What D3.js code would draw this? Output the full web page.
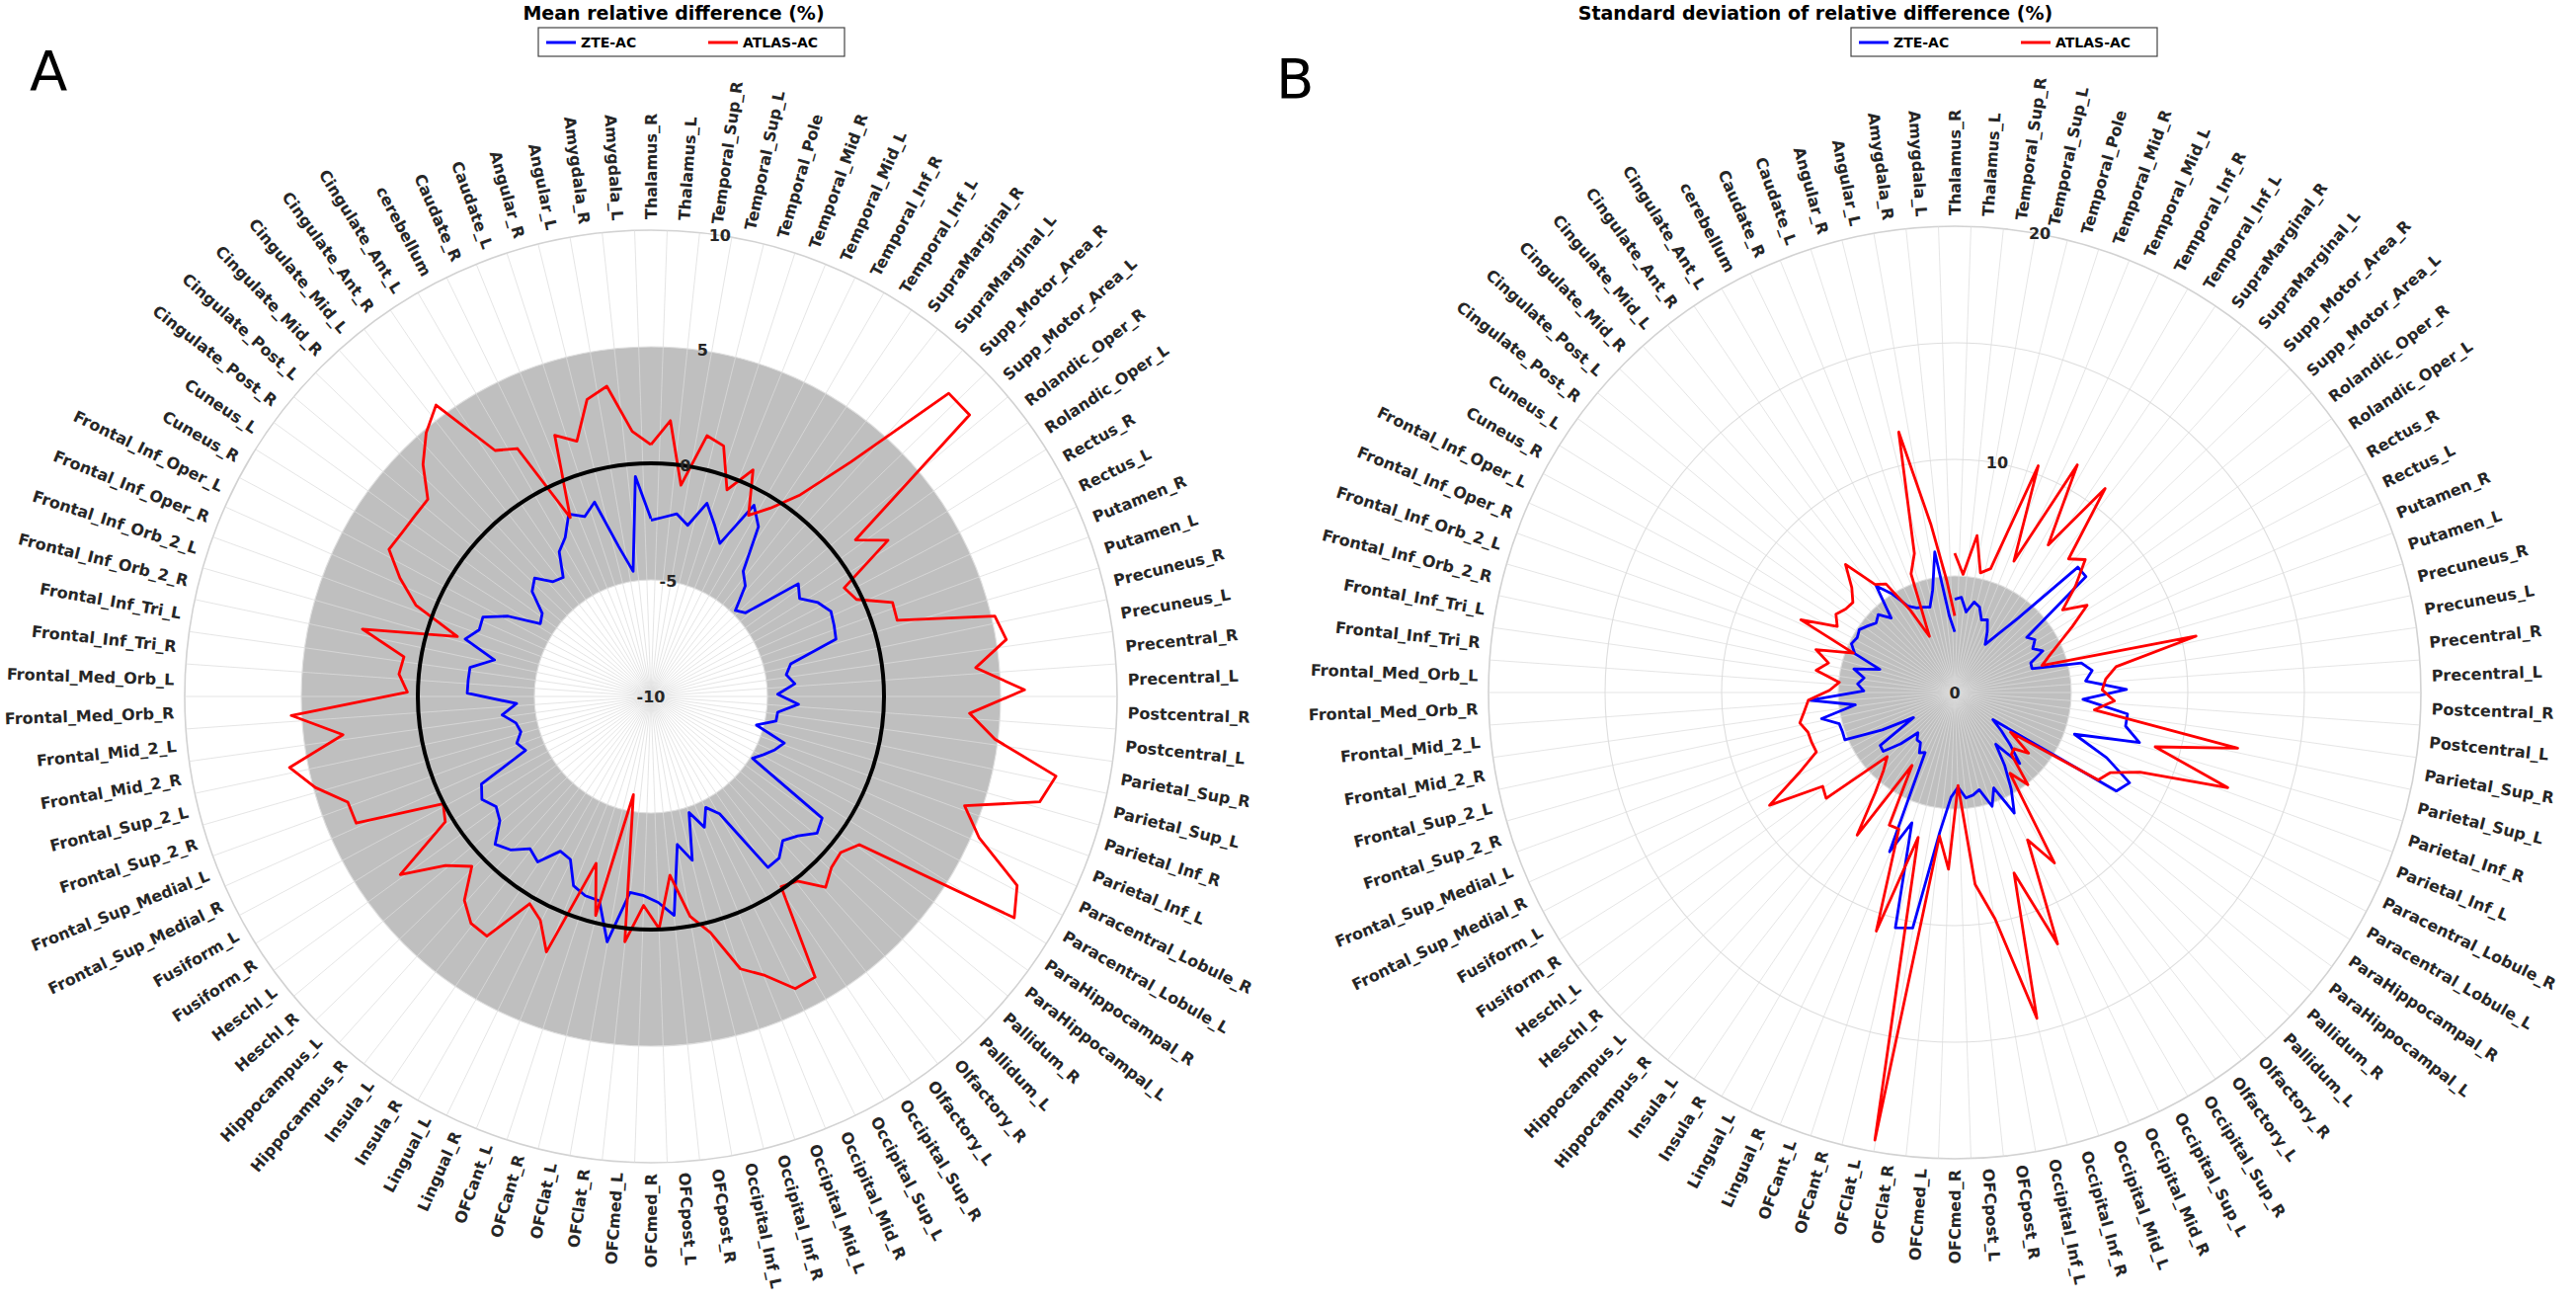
<!DOCTYPE html>
<html>
<head>
<meta charset="utf-8">
<script src="https://cdn.jsdelivr.net/npm/d3@7"></script>
<style>
  body { margin: 0; background: #fff; }
  svg { display: block; font-family: "DejaVu Sans", sans-serif; }
</style>
</head>
<body>
<svg id="chart" width="2608" height="1320"></svg>
<script>
// regions in plotting order, clockwise from 12 o'clock
const regions = [
  "Thalamus_R", "Thalamus_L", "Temporal_Sup_R", "Temporal_Sup_L", "Temporal_Pole",
  "Temporal_Mid_R", "Temporal_Mid_L", "Temporal_Inf_R", "Temporal_Inf_L", "SupraMarginal_R",
  "SupraMarginal_L", "Supp_Motor_Area_R", "Supp_Motor_Area_L", "Rolandic_Oper_R", "Rolandic_Oper_L",
  "Rectus_R", "Rectus_L", "Putamen_R", "Putamen_L", "Precuneus_R",
  "Precuneus_L", "Precentral_R", "Precentral_L", "Postcentral_R", "Postcentral_L",
  "Parietal_Sup_R", "Parietal_Sup_L", "Parietal_Inf_R", "Parietal_Inf_L", "Paracentral_Lobule_R",
  "Paracentral_Lobule_L", "ParaHippocampal_R", "ParaHippocampal_L", "Pallidum_R", "Pallidum_L",
  "Olfactory_R", "Olfactory_L", "Occipital_Sup_R", "Occipital_Sup_L", "Occipital_Mid_R",
  "Occipital_Mid_L", "Occipital_Inf_R", "Occipital_Inf_L", "OFCpost_R", "OFCpost_L",
  "OFCmed_R", "OFCmed_L", "OFClat_R", "OFClat_L", "OFCant_R",
  "OFCant_L", "Lingual_R", "Lingual_L", "Insula_R", "Insula_L",
  "Hippocampus_R", "Hippocampus_L", "Heschl_R", "Heschl_L", "Fusiform_R",
  "Fusiform_L", "Frontal_Sup_Medial_R", "Frontal_Sup_Medial_L", "Frontal_Sup_2_R", "Frontal_Sup_2_L",
  "Frontal_Mid_2_R", "Frontal_Mid_2_L", "Frontal_Med_Orb_R", "Frontal_Med_Orb_L", "Frontal_Inf_Tri_R",
  "Frontal_Inf_Tri_L", "Frontal_Inf_Orb_2_R", "Frontal_Inf_Orb_2_L", "Frontal_Inf_Oper_R", "Frontal_Inf_Oper_L",
  "Cuneus_R", "Cuneus_L", "Cingulate_Post_R", "Cingulate_Post_L", "Cingulate_Mid_R",
  "Cingulate_Mid_L", "Cingulate_Ant_R", "Cingulate_Ant_L", "cerebellum", "Caudate_R",
  "Caudate_L", "Angular_R", "Angular_L", "Amygdala_R", "Amygdala_L"
];

// A: mean relative difference (%)
const meanZTE = [
  -2.44, -2.29, -2.09, -2.49, -1.37, -2.13, -2.80, -0.68, -1.38, -3.33,
  -3.76, -4.83, -4.58, -2.04, -2.36, -1.78, -1.46, -1.57, -1.69, -3.84,
  -4.12, -3.80, -4.56, -3.66, -4.52, -4.53, -5.31, -3.94, -4.21, -4.56,
  -4.90, -0.99, -0.77, -1.31, -1.62, -1.15, -1.11, -4.17, -4.69, -3.94,
  -4.76, -2.75, -3.55, -0.56, -1.16, -1.45, -1.55, 0.69, -0.96, -1.00,
  -1.23, -2.20, -2.31, -1.40, -1.66, -1.08, -0.79, -1.61, -1.85, -1.51,
  -1.82, -4.15, -3.91, -4.22, -4.10, -3.57, -4.23, -2.12, -2.13, -2.14,
  -3.11, -1.66, -2.10, -2.03, -2.97, -4.32, -4.13, -3.20, -2.88, -3.53,
  -3.66, -2.65, -2.25, -1.42, -1.78, -1.32, -3.43, -4.58, -0.54, -2.37
];
const meanATLAS = [
  0.80, 1.86, -0.85, 1.44, 1.19, -0.56, 0.66, -1.17, -0.44, 0.71,
  3.22, 8.23, 8.24, 1.05, 2.18, -0.49, -0.25, 1.12, 1.06, 5.15,
  5.44, 3.99, 6.03, 3.69, 4.87, 7.71, 7.28, 4.25, 5.32, 7.68,
  8.25, 0.97, 0.54, 0.67, 1.10, 0.11, -0.11, 3.95, 3.98, 2.93,
  2.30, 0.45, -0.42, -2.29, -0.04, -1.03, 0.58, -5.72, -0.31, -2.47,
  1.84, 0.71, 0.30, 2.46, 2.42, 1.85, 0.59, 1.41, 3.19, 0.33,
  0.03, 3.76, 3.77, 4.92, 5.80, 3.31, 5.45, 0.45, 0.85, 0.73,
  2.71, -1.31, 0.82, 1.91, 2.89, 2.78, 2.75, 2.77, 3.95, 4.86,
  5.53, 2.49, 2.08, -1.58, 1.94, 1.40, 3.03, 3.44, 1.40, 0.80
];

// B: standard deviation of relative difference (%)
const stdZTE = [
  4.00, 4.09, 3.49, 3.97, 3.82, 3.32, 3.42, 2.94, 2.44, 3.09,
  4.18, 7.54, 7.51, 3.89, 4.12, 3.84, 4.18, 3.50, 3.47, 5.58,
  5.97, 5.64, 7.37, 5.51, 7.47, 7.47, 8.21, 5.44, 7.10, 8.44,
  8.12, 2.01, 2.60, 3.30, 4.13, 2.83, 3.80, 4.80, 5.77, 4.42,
  5.14, 4.30, 4.47, 4.55, 4.06, 4.50, 6.00, 10.26, 10.41, 5.88,
  7.38, 2.87, 3.00, 2.60, 2.60, 2.34, 3.20, 3.97, 3.92, 2.07,
  3.50, 5.13, 5.10, 5.13, 5.82, 4.30, 6.22, 3.90, 4.18, 3.94,
  4.44, 3.36, 4.60, 4.90, 4.80, 4.90, 4.70, 4.50, 4.68, 4.20,
  5.67, 5.00, 4.20, 3.98, 3.90, 3.81, 4.50, 6.09, 3.30, 2.60
];
const stdATLAS = [
  5.97, 5.08, 6.80, 5.25, 5.53, 10.36, 6.18, 11.09, 7.49, 10.87,
  7.53, 7.99, 6.92, 5.83, 6.80, 5.79, 4.96, 4.35, 3.92, 10.63,
  7.01, 6.50, 6.33, 6.86, 6.04, 12.37, 8.91, 12.40, 8.65, 7.50,
  7.21, 2.94, 4.10, 3.50, 3.60, 5.05, 4.20, 8.47, 7.05, 11.65,
  8.15, 14.41, 9.87, 8.28, 3.99, 7.58, 6.19, 19.50, 6.41, 10.77,
  6.33, 6.34, 3.62, 7.41, 5.49, 4.52, 3.99, 7.14, 6.95, 9.30,
  7.51, 6.46, 6.50, 6.52, 6.77, 6.50, 6.29, 5.37, 4.97, 6.02,
  5.56, 6.23, 4.66, 7.30, 5.78, 6.10, 5.89, 5.83, 6.30, 7.22,
  5.76, 5.51, 4.00, 2.64, 5.42, 6.21, 11.43, 7.30, 4.80, 3.29
];

const meanTicks = [-10, -5, 0, 5, 10];
const meanTickLabels = ["-10", "-5", "0", "5", "10"];
const stdTicks = [0, 5, 10, 15, 20];
const stdTickLabels = ["0", "", "10", "", "20"];

const seriesNames = ["ZTE-AC", "ATLAS-AC"];
const seriesColors = ["#0000ff", "#ff0000"];

const outerR = 472;
const svg = d3.select("#chart");

function drawRadar(opt) {
  const n = regions.length;
  const g = svg.append("g").attr("transform", `translate(${opt.cx},${opt.cy})`);

  const r = d3.scaleLinear().domain(opt.domain).range([0, outerR]);
  // values sit on an evenly spaced 0..2pi grid (last point back at the top)
  const valueAngle = d3.scaleLinear().domain([0, n - 1]).range([0, 2 * Math.PI]);
  // category labels every 360/n degrees
  const labelDeg = d3.scaleLinear().domain([0, n]).range([0, 360]);

  // grey band
  g.append("path")
    .attr("d", d3.arc()
      .innerRadius(r(opt.band[0]))
      .outerRadius(r(opt.band[1]))
      .startAngle(0)
      .endAngle(2 * Math.PI)())
    .attr("fill", "#bfbfbf");

  // rings
  g.selectAll(".ring")
    .data(opt.ticks.filter((t) => r(t) > 0))
    .enter()
    .append("circle")
    .attr("class", "ring")
    .attr("r", (d) => r(d))
    .attr("fill", "none")
    .attr("stroke", (d) => (d === opt.domain[1] ? "#d2d2d2" : "#dedede"))
    .attr("stroke-width", (d) => (d === opt.domain[1] ? 1.6 : 1.1));

  // spokes, between category labels
  g.selectAll(".spoke")
    .data(d3.range(n))
    .enter()
    .append("line")
    .attr("class", "spoke")
    .attr("x1", 0)
    .attr("y1", 0)
    .attr("x2", (i) => outerR * Math.sin(((labelDeg(i) + 2) * Math.PI) / 180))
    .attr("y2", (i) => -outerR * Math.cos(((labelDeg(i) + 2) * Math.PI) / 180))
    .attr("stroke", "#dcdcdc")
    .attr("stroke-opacity", 0.75)
    .attr("stroke-width", 1);

  const line = d3.lineRadial()
    .angle((d, i) => valueAngle(i))
    .radius((d) => r(d))
    .curve(d3.curveLinear);

  [opt.zte, opt.atlas].forEach((vals, s) => {
    g.append("path")
      .datum(vals)
      .attr("d", line)
      .attr("fill", "none")
      .attr("stroke", seriesColors[s])
      .attr("stroke-width", 2.8)
      .attr("stroke-linejoin", "round");
  });

  if (opt.zeroCircle !== undefined) {
    g.append("circle")
      .attr("r", r(opt.zeroCircle))
      .attr("fill", "none")
      .attr("stroke", "#000")
      .attr("stroke-width", 4);
  }

  // radial tick labels
  const ta = (opt.tickAngle * Math.PI) / 180;
  g.selectAll(".rtick")
    .data(opt.ticks)
    .enter()
    .append("text")
    .attr("class", "rtick")
    .attr("x", (d) => r(d) * Math.sin(ta))
    .attr("y", (d) => -r(d) * Math.cos(ta))
    .attr("text-anchor", "middle")
    .attr("dominant-baseline", "central")
    .attr("font-size", 16)
    .attr("font-weight", "bold")
    .attr("fill", "#262626")
    .text((d, i) => opt.tickLabels[i]);

  // category labels, radial
  const labelR = outerR + 11;
  g.selectAll(".cat")
    .data(regions)
    .enter()
    .append("text")
    .attr("class", "cat")
    .attr("transform", (d, i) => {
      const deg = labelDeg(i);
      const a = (deg * Math.PI) / 180;
      const x = labelR * Math.sin(a);
      const y = -labelR * Math.cos(a);
      const rot = deg < 180 ? deg - 90 : deg - 270;
      return `translate(${x},${y}) rotate(${rot})`;
    })
    .attr("text-anchor", (d, i) => (labelDeg(i) < 180 ? "start" : "end"))
    .attr("dominant-baseline", "central")
    .attr("font-size", 16)
    .attr("font-weight", "bold")
    .attr("fill", "#262626")
    .text((d) => d);

  // title
  svg.append("text")
    .attr("x", opt.titleX)
    .attr("y", 20)
    .attr("text-anchor", "middle")
    .attr("font-size", 19)
    .attr("font-weight", "bold")
    .attr("fill", "#000")
    .text(opt.title);

  // legend
  const lg = svg.append("g").attr("transform", `translate(${opt.legendX},28)`);
  lg.append("rect")
    .attr("width", 310)
    .attr("height", 29)
    .attr("fill", "#fff")
    .attr("stroke", "#444")
    .attr("stroke-width", 1.2);
  const legendX = [8, 172];
  seriesNames.forEach((name, s) => {
    lg.append("line")
      .attr("x1", legendX[s])
      .attr("x2", legendX[s] + 30)
      .attr("y1", 15)
      .attr("y2", 15)
      .attr("stroke", seriesColors[s])
      .attr("stroke-width", 3);
    lg.append("text")
      .attr("x", legendX[s] + 35)
      .attr("y", 15)
      .attr("dominant-baseline", "central")
      .attr("font-size", 14)
      .attr("font-weight", "bold")
      .attr("fill", "#000")
      .text(name);
  });

  // panel letter
  svg.append("text")
    .attr("x", opt.letterX)
    .attr("y", opt.letterY)
    .attr("font-size", 56)
    .attr("fill", "#000")
    .text(opt.letter);
}

drawRadar({
  cx: 659, cy: 705,
  domain: [-10, 10],
  band: [-5, 5],
  ticks: meanTicks,
  tickLabels: meanTickLabels,
  tickAngle: 8.5,
  zeroCircle: 0,
  zte: meanZTE,
  atlas: meanATLAS,
  title: "Mean relative difference (%)",
  titleX: 682,
  legendX: 545,
  letter: "A", letterX: 30, letterY: 91
});

drawRadar({
  cx: 1979, cy: 701,
  domain: [0, 20],
  band: [0, 5],
  ticks: stdTicks,
  tickLabels: stdTickLabels,
  tickAngle: 10.5,
  zte: stdZTE,
  atlas: stdATLAS,
  title: "Standard deviation of relative difference (%)",
  titleX: 1838,
  legendX: 1874,
  letter: "B", letterX: 1292, letterY: 99
});
</script>
</body>
</html>
